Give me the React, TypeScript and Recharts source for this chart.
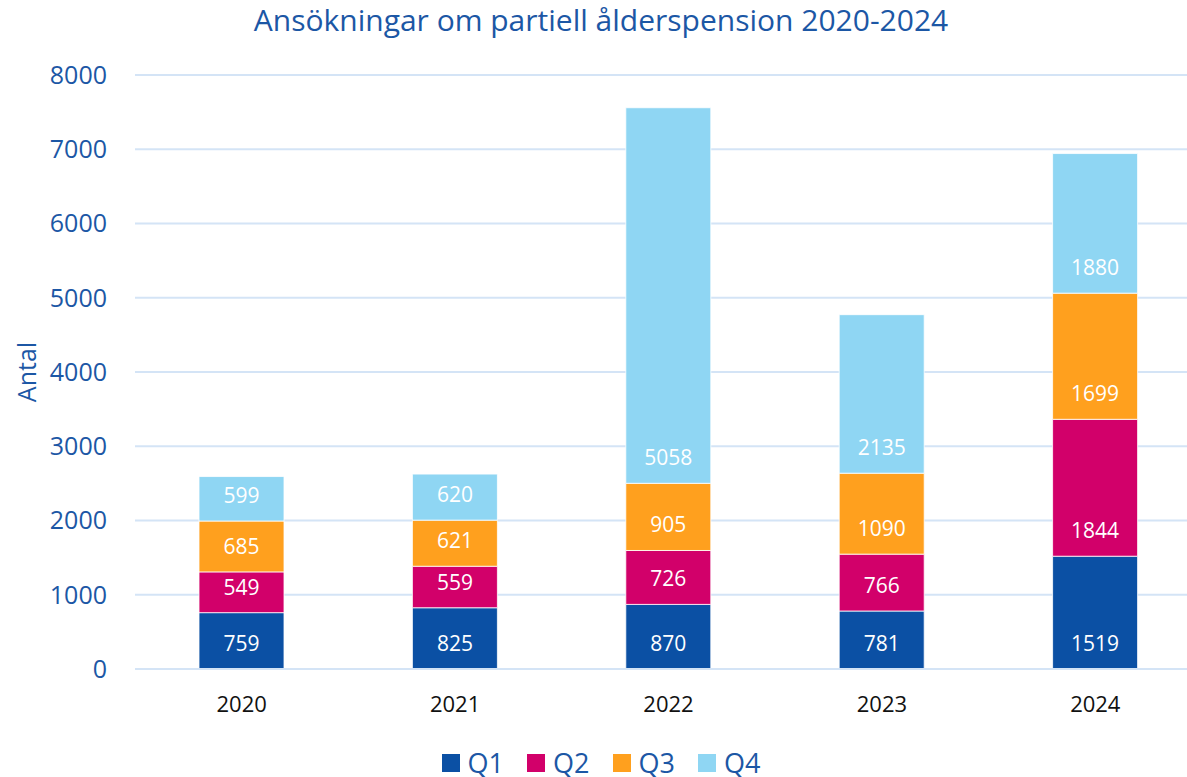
/**
 * Partial old-age pension applications 2020-2024, stacked by quarter.
 */
import { BarChart, Bar, XAxis, YAxis, CartesianGrid, Legend, LabelList } from 'recharts'

const years = ['2020', '2021', '2022', '2023', '2024']
const q1 = [759, 825, 870, 781, 1519]
const q2 = [549, 559, 726, 766, 1844]
const q3 = [685, 621, 905, 1090, 1699]
const q4 = [599, 620, 5058, 2135, 1880]
const yTicks = [0, 1000, 2000, 3000, 4000, 5000, 6000, 7000, 8000]

const series = [
  { key: 'Q1', color: '#0b50a4' },
  { key: 'Q2', color: '#d2006a' },
  { key: 'Q3', color: '#ffa01e' },
  { key: 'Q4', color: '#8fd6f3' },
]

const data = years.map((year, i) => ({
  year,
  Q1: q1[i],
  Q2: q2[i],
  Q3: q3[i],
  Q4: q4[i],
}))

const FONT = '"Open Sans", "Noto Sans", sans-serif'
const BLUE = '#1c57a5'

// labels sit a fixed distance above the bottom of each segment (like Excel's inside base)
function SegmentLabel(props: any) {
  const vb = props.viewBox || props
  const { x, y, width, height } = vb
  const bottom = y + height
  return (
    <text
      x={x + width / 2}
      y={bottom - 26}
      textAnchor="middle"
      dominantBaseline="central"
      fill="#ffffff"
      fontSize={21}
      fontFamily={FONT}
    >
      {props.value}
    </text>
  )
}

function LegendBox() {
  return (
    <div style={{ display: 'flex', justifyContent: 'center', gap: 23, fontFamily: FONT, height: 30 }}>
      {series.map((s) => (
        <div key={s.key} style={{ display: 'flex', alignItems: 'center', gap: 8 }}>
          <div style={{ width: 18, height: 18, background: s.color }} />
          <span style={{ color: BLUE, fontSize: 27, lineHeight: '30px' }}>{s.key}</span>
        </div>
      ))}
    </div>
  )
}

export default function App() {
  return (
    <div
      style={{
        position: 'absolute',
        left: 0,
        top: 0,
        width: 1187,
        height: 777,
        overflow: 'hidden',
        background: '#fff',
        fontFamily: FONT,
      }}
    >
      <div
        style={{
          position: 'absolute',
          top: 0,
          left: 0,
          width: 1202,
          textAlign: 'center',
          color: BLUE,
          fontSize: 30,
          lineHeight: '40px',
        }}
      >
        Ansökningar om partiell ålderspension 2020-2024
      </div>
      <BarChart
        width={1220}
        height={777}
        data={data}
        margin={{ top: 75, right: 18, bottom: 0, left: 0 }}
        style={{ position: 'absolute', left: 0, top: 0 }}
      >
        <CartesianGrid vertical={false} stroke="#d4e4f6" strokeWidth={2} />
        <XAxis
          dataKey="year"
          axisLine={{ stroke: '#d4e4f6', strokeWidth: 2 }}
          tickLine={false}
          tickSize={0}
          tickMargin={27}
          height={78}
          tick={{ fill: '#111', fontSize: 22, fontFamily: FONT }}
        />
        <YAxis
          domain={[0, 8000]}
          ticks={yTicks}
          width={135}
          axisLine={false}
          tickLine={false}
          tickSize={0}
          tickMargin={28}
          interval={0}
          tick={{ fill: BLUE, fontSize: 25, fontFamily: FONT }}
          label={({ viewBox }: any) => {
            const cy = viewBox.y + viewBox.height / 2
            return (
              <text
                x={26}
                y={cy}
                transform={`rotate(-90, 26, ${cy})`}
                textAnchor="middle"
                dominantBaseline="central"
                fill={BLUE}
                fontSize={25}
                fontFamily={FONT}
              >
                Antal
              </text>
            )
          }}
        />
        <Legend
          verticalAlign="bottom"
          height={30}
          content={() => <LegendBox />}
          wrapperStyle={{ bottom: -1 }}
        />
        {series.map((s) => (
          <Bar
            key={s.key}
            dataKey={s.key}
            stackId="a"
            fill={s.color}
            stroke="#ffffff"
            strokeWidth={0.8}
            barSize={85}
            isAnimationActive={false}
          >
            <LabelList dataKey={s.key} content={SegmentLabel} />
          </Bar>
        ))}
      </BarChart>
    </div>
  )
}
